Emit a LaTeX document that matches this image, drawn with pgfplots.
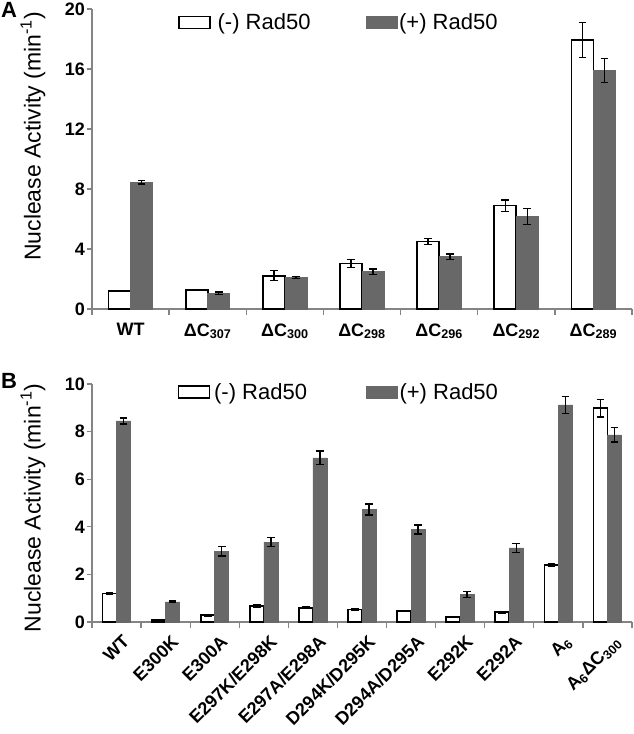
\documentclass[border=0pt]{standalone}
\usepackage{pgfplots}
\pgfplotsset{compat=1.18}
\usepackage{fontspec}
\setmainfont{Liberation Sans}
\definecolor{barg}{HTML}{686868}
\definecolor{axg}{HTML}{848484}
\pgfplotsset{
  panel/.style={
    scale only axis, width=540pt,
    axis x line*=bottom, axis y line*=left,
    axis line style={axg, line width=1.3pt, -},
    ymin=0, ybar=0pt,
    xtick=data,
    xtick style={draw=none},
    ytick style={draw=axg, line width=1.3pt},
    tick align=outside, major tick length=5pt,
    /pgf/number format/assume math mode=true,
    yticklabel style={font=\bfseries\fontsize{18}{20}\selectfont, inner sep=2pt},
    xticklabel style={font=\bfseries\fontsize{18}{20}\selectfont},
    extra x tick style={xtick style={draw=axg, line width=1.3pt}, major tick length=6pt},
    extra x tick labels={},
    error bars/y dir=both, error bars/y explicit,
    error bars/error bar style={black, line width=1.4pt},
    error bars/error mark options={rotate=90, mark size=3.8pt, black, line width=1.4pt},
    legend image code/.code={\draw[#1] (0pt,-6pt) rectangle (31pt,6pt);},
    legend style={draw=none, fill=none, legend columns=2, inner sep=0pt,
      font=\fontsize{22}{24}\selectfont},
    legend cell align=left,
  },
  ylab/.style={every axis y label/.style={at={([xshift=-59pt]axis description cs:0,#1)}, rotate=90, anchor=center, font=\fontsize{23}{26}\selectfont}},
  wbar/.style={fill=white, draw=black, line width=1.6pt},
  gbar/.style={fill=barg, draw=barg, line width=0.5pt},
}
\begin{document}
\begin{tikzpicture}
\path[use as bounding box] (0,0) rectangle (633pt,-734pt);
% Panel A
\begin{axis}[panel, at={(92pt,-309pt)}, anchor=south west, height=300pt,
  ymax=20, ytick={0,4,...,20},
  bar width=22pt,
  xmin=-0.5, xmax=6.5,
  extra x ticks={-0.5,0.5,...,6.5},
  xticklabels={WT, ΔC\textsubscript{307}, ΔC\textsubscript{300}, ΔC\textsubscript{298}, ΔC\textsubscript{296}, ΔC\textsubscript{292}, ΔC\textsubscript{289}},
  xticklabel style={yshift=-6pt},
  ylab=0.575,
  ylabel={Nuclease Activity (min\textsuperscript{-1})},
  legend style={at={(axis description cs:0.159,0.955)}, anchor=west},
]
\addplot[wbar] coordinates {(0,1.2) +- (0,0.05) (1,1.27) +- (0,0.04) (2,2.22) +- (0,0.33) (3,3.04) +- (0,0.28) (4,4.51) +- (0,0.19) (5,6.89) +- (0,0.37) (6,17.93) +- (0,1.17)};
\addplot[gbar] coordinates {(0,8.45) +- (0,0.12) (1,1.05) +- (0,0.08) (2,2.10) +- (0,0.07) (3,2.49) +- (0,0.19) (4,3.49) +- (0,0.18) (5,6.16) +- (0,0.53) (6,15.91) +- (0,0.80)};
\legend{\hspace{5pt}(-) Rad50\hspace{53pt}\null, (+) Rad50}
\end{axis}
% Panel B
\begin{axis}[panel, at={(92pt,-622pt)}, anchor=south west, height=238pt,
  ymax=10, ytick={0,2,...,10},
  bar width=14pt,
  xmin=-0.5, xmax=10.5,
  extra x ticks={-0.5,0.5,...,10.5},
  xticklabels={WT, E300K, E300A, E297K/E298K, E297A/E298A, D294K/D295K, D294A/D295A, E292K, E292A, A\textsubscript{6}, A\textsubscript{6}ΔC\textsubscript{300}},
  xticklabel style={xshift=5pt, yshift=-7pt, rotate=45, anchor=north east, inner sep=0pt},
  ylab=0.479,
  ylabel={Nuclease Activity (min\textsuperscript{-1})},
  legend style={at={(axis description cs:0.158,0.966)}, anchor=west},
]
\addplot[wbar] coordinates {(0,1.2) +- (0,0.03) (1,0.08) +- (0,0.02) (2,0.29) +- (0,0.03) (3,0.67) +- (0,0.04) (4,0.60) +- (0,0.04) (5,0.53) +- (0,0.03) (6,0.46) +- (0,0.03) (7,0.20) +- (0,0.02) (8,0.41) +- (0,0.03) (9,2.39) +- (0,0.06) (10,8.98) +- (0,0.37)};
\addplot[gbar] coordinates {(0,8.45) +- (0,0.13) (1,0.85) +- (0,0.04) (2,2.98) +- (0,0.20) (3,3.36) +- (0,0.18) (4,6.90) +- (0,0.28) (5,4.73) +- (0,0.23) (6,3.89) +- (0,0.19) (7,1.16) +- (0,0.13) (8,3.12) +- (0,0.19) (9,9.12) +- (0,0.36) (10,7.86) +- (0,0.30)};
\legend{\hspace{2pt}(-) Rad50\hspace{57pt}\null, (+) Rad50}
\end{axis}
\node[font=\bfseries\fontsize{22}{24}\selectfont, anchor=north west, inner sep=0pt] at (1pt,-2pt) {A};
\node[font=\bfseries\fontsize{22}{24}\selectfont, anchor=north west, inner sep=0pt] at (1pt,-373pt) {B};
\end{tikzpicture}
\end{document}
